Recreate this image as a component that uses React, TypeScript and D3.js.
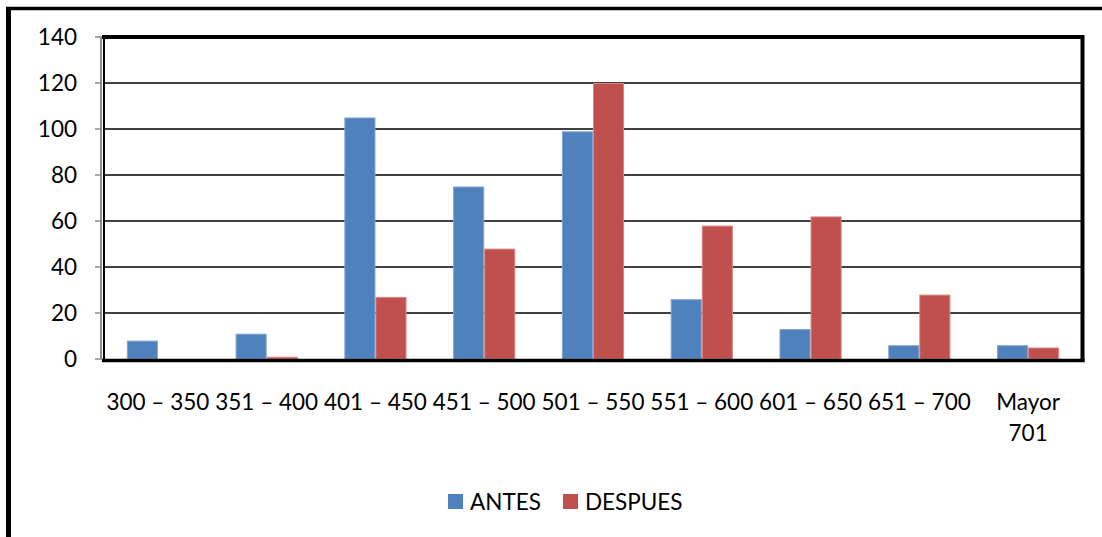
import React from "react";
import * as d3 from "d3";

// Score ranges and counts per group
const categories: string[][] = [
  ["300 – 350"],
  ["351 – 400"],
  ["401 – 450"],
  ["451 – 500"],
  ["501 – 550"],
  ["551 – 600"],
  ["601 – 650"],
  ["651 – 700"],
  ["Mayor", "701"],
];
const antes: number[] = [8, 11, 105, 75, 99, 26, 13, 6, 6];
const despues: number[] = [0, 1, 27, 48, 120, 58, 62, 28, 5];
const seriesNames: string[] = ["ANTES", "DESPUES"];
const yTicks: number[] = [0, 20, 40, 60, 80, 100, 120, 140];

const colors = ["#4F81BD", "#C0504D"];
const edgeColors = ["#7FA3D3", "#D98583"];

const W = 1102;
const H = 537;
const FONT = "Lato, 'Open Sans', sans-serif";

export default function App() {
  const left = 103.5;
  const right = 1082.5;
  const top = 37;
  const bottom = 359;

  const keys = categories.map((c) => c.join(" "));
  const x = d3.scaleBand<string>().domain(keys).range([left, right]).padding(0);
  const inner = d3
    .scaleBand<string>()
    .domain(seriesNames)
    .range([0, x.bandwidth()])
    .paddingInner(0)
    .paddingOuter(0.75);
  const y = d3.scaleLinear().domain([0, 140]).range([bottom, top]);

  const series = [antes, despues];

  return (
    <svg
      width={W}
      height={H}
      style={{ position: "absolute", left: 0, top: 0, background: "#fff" }}
      fontFamily={FONT}
    >
      <rect x={0} y={0} width={W} height={H} fill="#fff" />
      {/* outer frame */}
      <line x1={8.5} x2={8.5} y1={7} y2={H} stroke="#000" strokeWidth={5} />
      <line x1={6} x2={W} y1={8.5} y2={8.5} stroke="#000" strokeWidth={3.5} />

      {/* gridlines */}
      {yTicks.slice(1, -1).map((t) => (
        <line
          key={"g" + t}
          x1={left}
          x2={right}
          y1={y(t)}
          y2={y(t)}
          stroke="#000"
          strokeWidth={1.5}
        />
      ))}

      {/* bars */}
      {series.map((vals, si) =>
        vals.map((v, i) => {
          if (v <= 0) return null;
          const bx = (x(keys[i]) as number) + (inner(seriesNames[si]) as number);
          const by = y(v);
          return (
            <rect
              key={si + "-" + i}
              x={bx + 0.5}
              y={by + 0.5}
              width={inner.bandwidth() - 1}
              height={Math.max(0, y(0) - by - 0.5)}
              fill={colors[si]}
              stroke={edgeColors[si]}
              strokeWidth={1}
            />
          );
        })
      )}

      {/* value axis line and ticks */}
      <line x1={101} x2={101} y1={top} y2={bottom} stroke="#8c8c8c" strokeWidth={2} />
      {yTicks.map((t) => (
        <g key={"t" + t}>
          <line x1={95} x2={102} y1={y(t)} y2={y(t)} stroke="#8c8c8c" strokeWidth={1.5} />
          <text
            x={77}
            y={y(t)}
            dy="0.36em"
            textAnchor="end"
            fontSize={22.5}
            fill="#000"
          >
            {t}
          </text>
        </g>
      ))}

      {/* plot area border */}
      <line x1={104} x2={104} y1={top - 2} y2={bottom + 2} stroke="#000" strokeWidth={2} />
      <line x1={102} x2={right + 1.5} y1={top} y2={top} stroke="#000" strokeWidth={4} />
      <line x1={right} x2={right} y1={top - 2} y2={bottom + 3} stroke="#000" strokeWidth={4} />
      <line x1={102} x2={right + 2} y1={bottom + 1.5} y2={bottom + 1.5} stroke="#000" strokeWidth={3.5} />

      {/* category labels */}
      {categories.map((lines, i) => {
        const cx = (x(keys[i]) as number) + x.bandwidth() / 2;
        return (
          <text key={"c" + i} x={cx} y={410} textAnchor="middle" fontSize={22.5} fill="#000">
            {lines.map((l, j) => (
              <tspan key={j} x={cx} dy={j === 0 ? 0 : 31}>
                {l}
              </tspan>
            ))}
          </text>
        );
      })}

      {/* legend */}
      {seriesNames.map((name, si) => {
        const lx = [448, 563][si];
        return (
          <g key={"l" + name}>
            <rect x={lx} y={494} width={15} height={15} fill={colors[si]} />
            <text x={lx + 22} y={510} fontSize={22.5} fill="#000">
              {name}
            </text>
          </g>
        );
      })}
    </svg>
  );
}
